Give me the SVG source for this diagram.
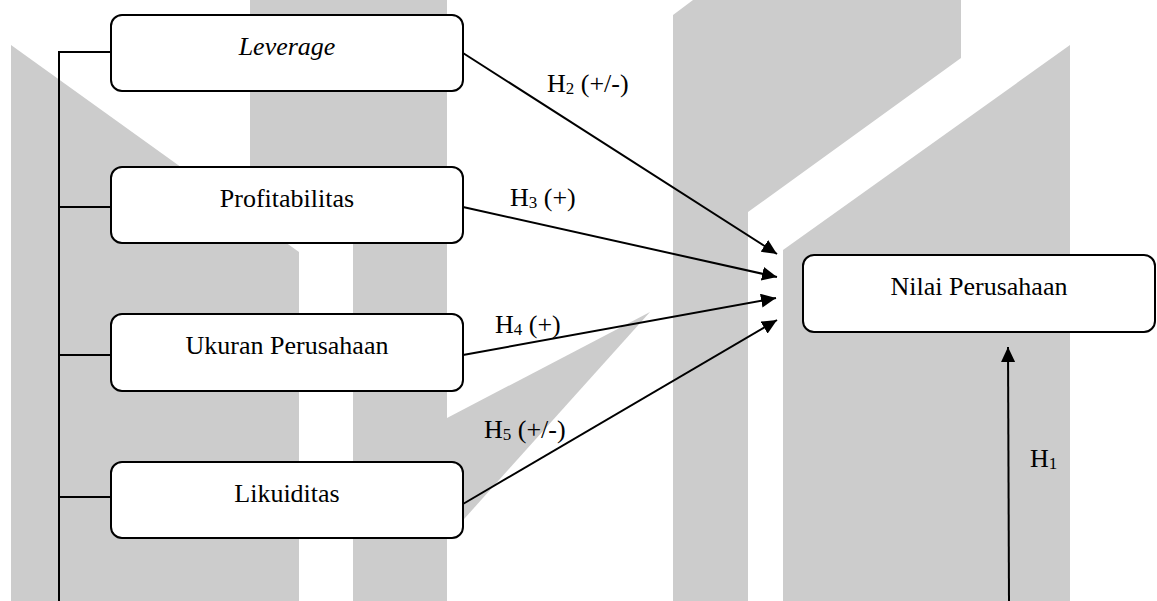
<svg xmlns="http://www.w3.org/2000/svg" width="1157" height="601" viewBox="0 0 1157 601">
<style>
.wm{fill:#cccccc;stroke:none}
.box{fill:#ffffff;stroke:#000000;stroke-width:2}
.lbl{font-family:"Liberation Serif","Times New Roman",serif;font-size:26px;fill:#000000}
.sub{font-size:17px}
.con{stroke:#000000;stroke-width:2;fill:none}
</style>
<defs>
<marker id="arr" markerUnits="userSpaceOnUse" markerWidth="16" markerHeight="14" refX="15" refY="7" orient="auto">
<path d="M0,0 L15,7 L0,14 z" fill="#000000"/>
</marker>
</defs>
<rect width="1157" height="601" fill="#ffffff"/>
<g id="watermark">
<polygon class="wm" points="11,45 299,252 299,601 11,601"/>
<rect class="wm" x="250" y="0" width="103" height="225"/>
<rect class="wm" x="353" y="0" width="94" height="601"/>
<polygon class="wm" points="447,418 650,312 447,538"/>
<polygon class="wm" points="673,15 693,0 961,0 961,58 748,212 748,601 673,601"/>
<polygon class="wm" points="783,250 1070,45 1070,601 783,601"/>
</g>
<g id="connectors">
<polyline class="con" points="59,601 59,52 111,52"/>
<line class="con" x1="59" y1="207" x2="111" y2="207"/>
<line class="con" x1="59" y1="355" x2="111" y2="355"/>
<line class="con" x1="59" y1="497" x2="111" y2="497"/>
<line class="con" x1="463" y1="53" x2="777" y2="254" marker-end="url(#arr)"/>
<line class="con" x1="463" y1="207" x2="777" y2="277" marker-end="url(#arr)"/>
<line class="con" x1="463" y1="355" x2="776" y2="298" marker-end="url(#arr)"/>
<line class="con" x1="463" y1="504" x2="777" y2="320" marker-end="url(#arr)"/>
<line class="con" x1="1009" y1="601" x2="1008" y2="347" marker-end="url(#arr)"/>
</g>
<g id="labels">
<text class="lbl" x="547" y="92">H<tspan class="sub" dy="2">2</tspan><tspan dy="-2"> (+/-)</tspan></text>
<text class="lbl" x="510" y="206">H<tspan class="sub" dy="2">3</tspan><tspan dy="-2"> (+)</tspan></text>
<text class="lbl" x="495" y="333">H<tspan class="sub" dy="2">4</tspan><tspan dy="-2"> (+)</tspan></text>
<text class="lbl" x="484" y="438">H<tspan class="sub" dy="2">5</tspan><tspan dy="-2"> (+/-)</tspan></text>
<text class="lbl" x="1030" y="467">H<tspan class="sub" dy="2">1</tspan></text>
</g>
<g id="node-leverage">
<rect class="box" x="111" y="15" width="352" height="76" rx="11"/>
<text class="lbl" x="287" y="55" text-anchor="middle" font-style="italic">Leverage</text>
</g>
<g id="node-profitabilitas">
<rect class="box" x="111" y="167" width="352" height="76" rx="11"/>
<text class="lbl" x="287" y="207" text-anchor="middle">Profitabilitas</text>
</g>
<g id="node-ukuran">
<rect class="box" x="111" y="314" width="352" height="77" rx="11"/>
<text class="lbl" x="287" y="354" text-anchor="middle">Ukuran Perusahaan</text>
</g>
<g id="node-likuiditas">
<rect class="box" x="111" y="462" width="352" height="76" rx="11"/>
<text class="lbl" x="287" y="502" text-anchor="middle">Likuiditas</text>
</g>
<g id="node-nilai">
<rect class="box" x="803" y="255" width="352" height="77" rx="11"/>
<text class="lbl" x="979" y="295" text-anchor="middle">Nilai Perusahaan</text>
</g>
</svg>
